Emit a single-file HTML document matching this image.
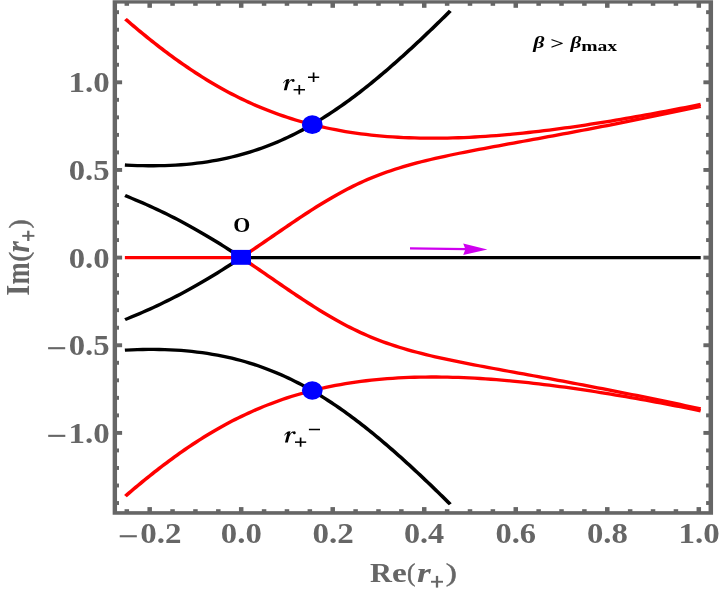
<!DOCTYPE html>
<html><head><meta charset="utf-8"><title>plot</title>
<style>
html,body{margin:0;padding:0;background:#fff;}
svg{display:block;will-change:transform;font-family:"Liberation Serif",serif;}
</style></head>
<body>
<svg width="719" height="589" viewBox="0 0 719 589">
<rect width="719" height="589" fill="#fff"/>
<rect x="112.65" y="0.25" width="600.40" height="514.50" fill="#666"/><rect x="117.05" y="3.6" width="591.50" height="507.55" fill="#fff"/>
<g fill="#666"><rect x="124.55" y="509.2" width="4.5" height="2.95"/><rect x="124.55" y="2.60" width="4.5" height="3.20"/><rect x="147.43" y="507.1" width="4.5" height="5.05"/><rect x="147.43" y="2.60" width="4.5" height="5.20"/><rect x="170.31" y="509.2" width="4.5" height="2.95"/><rect x="170.31" y="2.60" width="4.5" height="3.20"/><rect x="193.19" y="509.2" width="4.5" height="2.95"/><rect x="193.19" y="2.60" width="4.5" height="3.20"/><rect x="216.07" y="509.2" width="4.5" height="2.95"/><rect x="216.07" y="2.60" width="4.5" height="3.20"/><rect x="238.95" y="507.1" width="4.5" height="5.05"/><rect x="238.95" y="2.60" width="4.5" height="5.20"/><rect x="261.83" y="509.2" width="4.5" height="2.95"/><rect x="261.83" y="2.60" width="4.5" height="3.20"/><rect x="284.71" y="509.2" width="4.5" height="2.95"/><rect x="284.71" y="2.60" width="4.5" height="3.20"/><rect x="307.59" y="509.2" width="4.5" height="2.95"/><rect x="307.59" y="2.60" width="4.5" height="3.20"/><rect x="330.47" y="507.1" width="4.5" height="5.05"/><rect x="330.47" y="2.60" width="4.5" height="5.20"/><rect x="353.35" y="509.2" width="4.5" height="2.95"/><rect x="353.35" y="2.60" width="4.5" height="3.20"/><rect x="376.23" y="509.2" width="4.5" height="2.95"/><rect x="376.23" y="2.60" width="4.5" height="3.20"/><rect x="399.11" y="509.2" width="4.5" height="2.95"/><rect x="399.11" y="2.60" width="4.5" height="3.20"/><rect x="421.99" y="507.1" width="4.5" height="5.05"/><rect x="421.99" y="2.60" width="4.5" height="5.20"/><rect x="444.87" y="509.2" width="4.5" height="2.95"/><rect x="444.87" y="2.60" width="4.5" height="3.20"/><rect x="467.75" y="509.2" width="4.5" height="2.95"/><rect x="467.75" y="2.60" width="4.5" height="3.20"/><rect x="490.63" y="509.2" width="4.5" height="2.95"/><rect x="490.63" y="2.60" width="4.5" height="3.20"/><rect x="513.51" y="507.1" width="4.5" height="5.05"/><rect x="513.51" y="2.60" width="4.5" height="5.20"/><rect x="536.39" y="509.2" width="4.5" height="2.95"/><rect x="536.39" y="2.60" width="4.5" height="3.20"/><rect x="559.27" y="509.2" width="4.5" height="2.95"/><rect x="559.27" y="2.60" width="4.5" height="3.20"/><rect x="582.15" y="509.2" width="4.5" height="2.95"/><rect x="582.15" y="2.60" width="4.5" height="3.20"/><rect x="605.03" y="507.1" width="4.5" height="5.05"/><rect x="605.03" y="2.60" width="4.5" height="5.20"/><rect x="627.91" y="509.2" width="4.5" height="2.95"/><rect x="627.91" y="2.60" width="4.5" height="3.20"/><rect x="650.79" y="509.2" width="4.5" height="2.95"/><rect x="650.79" y="2.60" width="4.5" height="3.20"/><rect x="673.67" y="509.2" width="4.5" height="2.95"/><rect x="673.67" y="2.60" width="4.5" height="3.20"/><rect x="696.55" y="507.1" width="4.5" height="5.05"/><rect x="696.55" y="2.60" width="4.5" height="5.20"/><rect x="116.05" y="501.07" width="2.95" height="3.9"/><rect x="706.1" y="501.07" width="3.45" height="3.9"/><rect x="116.05" y="483.54" width="2.95" height="3.9"/><rect x="706.1" y="483.54" width="3.45" height="3.9"/><rect x="116.05" y="466.01" width="2.95" height="3.9"/><rect x="706.1" y="466.01" width="3.45" height="3.9"/><rect x="116.05" y="448.48" width="2.95" height="3.9"/><rect x="706.1" y="448.48" width="3.45" height="3.9"/><rect x="116.05" y="430.95" width="6.05" height="3.9"/><rect x="703.4" y="430.95" width="6.15" height="3.9"/><rect x="116.05" y="413.42" width="2.95" height="3.9"/><rect x="706.1" y="413.42" width="3.45" height="3.9"/><rect x="116.05" y="395.89" width="2.95" height="3.9"/><rect x="706.1" y="395.89" width="3.45" height="3.9"/><rect x="116.05" y="378.36" width="2.95" height="3.9"/><rect x="706.1" y="378.36" width="3.45" height="3.9"/><rect x="116.05" y="360.83" width="2.95" height="3.9"/><rect x="706.1" y="360.83" width="3.45" height="3.9"/><rect x="116.05" y="343.30" width="6.05" height="3.9"/><rect x="703.4" y="343.30" width="6.15" height="3.9"/><rect x="116.05" y="325.77" width="2.95" height="3.9"/><rect x="706.1" y="325.77" width="3.45" height="3.9"/><rect x="116.05" y="308.24" width="2.95" height="3.9"/><rect x="706.1" y="308.24" width="3.45" height="3.9"/><rect x="116.05" y="290.71" width="2.95" height="3.9"/><rect x="706.1" y="290.71" width="3.45" height="3.9"/><rect x="116.05" y="273.18" width="2.95" height="3.9"/><rect x="706.1" y="273.18" width="3.45" height="3.9"/><rect x="116.05" y="255.65" width="6.05" height="3.9"/><rect x="703.4" y="255.65" width="6.15" height="3.9"/><rect x="116.05" y="238.12" width="2.95" height="3.9"/><rect x="706.1" y="238.12" width="3.45" height="3.9"/><rect x="116.05" y="220.59" width="2.95" height="3.9"/><rect x="706.1" y="220.59" width="3.45" height="3.9"/><rect x="116.05" y="203.06" width="2.95" height="3.9"/><rect x="706.1" y="203.06" width="3.45" height="3.9"/><rect x="116.05" y="185.53" width="2.95" height="3.9"/><rect x="706.1" y="185.53" width="3.45" height="3.9"/><rect x="116.05" y="168.00" width="6.05" height="3.9"/><rect x="703.4" y="168.00" width="6.15" height="3.9"/><rect x="116.05" y="150.47" width="2.95" height="3.9"/><rect x="706.1" y="150.47" width="3.45" height="3.9"/><rect x="116.05" y="132.94" width="2.95" height="3.9"/><rect x="706.1" y="132.94" width="3.45" height="3.9"/><rect x="116.05" y="115.41" width="2.95" height="3.9"/><rect x="706.1" y="115.41" width="3.45" height="3.9"/><rect x="116.05" y="97.88" width="2.95" height="3.9"/><rect x="706.1" y="97.88" width="3.45" height="3.9"/><rect x="116.05" y="80.35" width="6.05" height="3.9"/><rect x="703.4" y="80.35" width="6.15" height="3.9"/><rect x="116.05" y="62.82" width="2.95" height="3.9"/><rect x="706.1" y="62.82" width="3.45" height="3.9"/><rect x="116.05" y="45.29" width="2.95" height="3.9"/><rect x="706.1" y="45.29" width="3.45" height="3.9"/><rect x="116.05" y="27.76" width="2.95" height="3.9"/><rect x="706.1" y="27.76" width="3.45" height="3.9"/><rect x="116.05" y="10.23" width="2.95" height="3.9"/><rect x="706.1" y="10.23" width="3.45" height="3.9"/></g>
<g transform="scale(1.17 1)" fill="none" stroke-width="3.3" stroke-linecap="square" stroke-linejoin="round">
<path d="M108.38 165.08L112.69 165.33L117.36 165.53L122.05 165.68L126.74 165.76L131.43 165.77L136.12 165.71L140.80 165.58L145.47 165.37L150.12 165.09L154.75 164.73L159.34 164.29L163.89 163.77L168.39 163.18L172.84 162.51L177.23 161.76L181.55 160.94L185.81 160.06L189.99 159.10L194.09 158.08L198.12 157.00L202.06 155.86L205.92 154.66L209.70 153.42L213.41 152.12L217.03 150.79L220.57 149.40L224.03 147.99L227.42 146.53L230.73 145.04L233.98 143.52L237.15 141.97L240.26 140.40L243.31 138.80L246.29 137.17L249.22 135.53L252.09 133.86L254.91 132.18L257.67 130.48L260.39 128.77L263.06 127.04L265.49 125.43L266.54 124.72L267.02 124.39L268.23 123.57L270.77 121.80L273.28 120.02L275.75 118.23L278.18 116.43L280.58 114.63L282.95 112.81L285.29 110.99L287.60 109.16L289.88 107.32L292.13 105.47L294.36 103.62L296.56 101.76L298.74 99.90L300.90 98.03L303.04 96.16L305.16 94.28L307.25 92.40L309.33 90.51L311.39 88.62L313.44 86.73L315.46 84.83L317.47 82.93L319.47 81.03L321.45 79.12L323.42 77.21L325.37 75.30L327.31 73.38L329.24 71.46L331.15 69.54L333.06 67.62L334.95 65.70L336.83 63.77L338.70 61.84L340.56 59.91L342.42 57.98L344.26 56.04L346.09 54.11L347.92 52.17L349.73 50.23L351.54 48.29L353.34 46.34L355.13 44.40L356.92 42.45L358.70 40.51L360.47 38.56L362.23 36.61L363.99 34.66L365.74 32.71L367.49 30.75L369.23 28.80L370.96 26.85L372.69 24.89L374.41 22.93L376.13 20.98L377.84 19.02L379.55 17.06L381.25 15.10L382.95 13.14L383.77 12.18" stroke="#000"/>
<path d="M108.38 350.12L112.69 349.87L117.36 349.67L122.05 349.52L126.74 349.44L131.43 349.43L136.12 349.49L140.80 349.62L145.47 349.83L150.12 350.11L154.75 350.47L159.34 350.91L163.89 351.43L168.39 352.02L172.84 352.69L177.23 353.44L181.55 354.26L185.81 355.14L189.99 356.10L194.09 357.12L198.12 358.20L202.06 359.34L205.92 360.54L209.70 361.78L213.41 363.08L217.03 364.41L220.57 365.80L224.03 367.21L227.42 368.67L230.73 370.16L233.98 371.68L237.15 373.23L240.26 374.80L243.31 376.40L246.29 378.03L249.22 379.67L252.09 381.34L254.91 383.02L257.67 384.72L260.39 386.43L263.06 388.16L265.49 389.77L266.54 390.48L267.02 390.81L268.23 391.63L270.77 393.40L273.28 395.18L275.75 396.97L278.18 398.77L280.58 400.57L282.95 402.39L285.29 404.21L287.60 406.04L289.88 407.88L292.13 409.73L294.36 411.58L296.56 413.44L298.74 415.30L300.90 417.17L303.04 419.04L305.16 420.92L307.25 422.80L309.33 424.69L311.39 426.58L313.44 428.47L315.46 430.37L317.47 432.27L319.47 434.17L321.45 436.08L323.42 437.99L325.37 439.90L327.31 441.82L329.24 443.74L331.15 445.66L333.06 447.58L334.95 449.50L336.83 451.43L338.70 453.36L340.56 455.29L342.42 457.22L344.26 459.16L346.09 461.09L347.92 463.03L349.73 464.97L351.54 466.91L353.34 468.86L355.13 470.80L356.92 472.75L358.70 474.69L360.47 476.64L362.23 478.59L363.99 480.54L365.74 482.49L367.49 484.45L369.23 486.40L370.96 488.35L372.69 490.31L374.41 492.27L376.13 494.22L377.84 496.18L379.55 498.14L381.25 500.10L382.95 502.06L383.77 503.02" stroke="#000"/>
<path d="M206.15 257.60L206.09 257.55L205.95 257.44L205.66 257.21L205.17 256.84L204.44 256.27L203.39 255.46L201.96 254.36L200.07 252.91L197.73 251.14L195.33 249.33L192.92 247.52L190.49 245.72L188.04 243.93L185.58 242.14L183.09 240.35L180.59 238.57L178.07 236.80L175.53 235.03L172.96 233.27L170.37 231.52L167.76 229.77L165.13 228.03L162.46 226.29L159.78 224.57L157.06 222.85L154.32 221.15L151.55 219.45L148.75 217.76L145.92 216.08L143.06 214.42L140.17 212.76L137.25 211.11L134.29 209.48L131.31 207.85L128.29 206.24L125.25 204.64L122.17 203.05L119.06 201.48L115.91 199.92L112.74 198.37L109.53 196.83L108.38 196.28" stroke="#000"/>
<path d="M206.15 257.60L206.09 257.65L205.95 257.76L205.66 257.99L205.17 258.36L204.44 258.93L203.39 259.74L201.96 260.84L200.07 262.29L197.73 264.06L195.33 265.87L192.92 267.68L190.49 269.48L188.04 271.27L185.58 273.06L183.09 274.85L180.59 276.63L178.07 278.40L175.53 280.17L172.96 281.93L170.37 283.68L167.76 285.43L165.13 287.17L162.46 288.91L159.78 290.63L157.06 292.35L154.32 294.05L151.55 295.75L148.75 297.44L145.92 299.12L143.06 300.78L140.17 302.44L137.25 304.09L134.29 305.72L131.31 307.35L128.29 308.96L125.25 310.56L122.17 312.15L119.06 313.72L115.91 315.28L112.74 316.83L109.53 318.37L108.38 318.92" stroke="#000"/>
<path d="M108.38 20.28L110.27 22.18L112.19 24.09L114.12 26.01L116.07 27.93L118.02 29.84L119.99 31.75L121.97 33.66L123.96 35.56L125.97 37.46L127.99 39.36L130.02 41.26L132.07 43.15L134.13 45.04L136.21 46.92L138.31 48.81L140.42 50.69L142.55 52.56L144.70 54.43L146.86 56.30L149.05 58.16L151.25 60.02L153.48 61.87L155.73 63.71L158.00 65.56L160.29 67.39L162.60 69.22L164.95 71.04L167.31 72.86L169.71 74.67L172.13 76.47L174.58 78.27L177.06 80.05L179.57 81.83L182.12 83.60L184.69 85.35L187.30 87.10L189.95 88.84L192.64 90.56L195.36 92.28L198.12 93.98L200.93 95.66L203.78 97.34L206.67 98.99L209.61 100.63L212.59 102.26L215.62 103.86L218.71 105.45L221.84 107.01L225.03 108.56L228.28 110.08L231.57 111.57L234.93 113.04L238.34 114.49L241.82 115.90L245.35 117.29L248.94 118.64L252.60 119.96L256.31 121.24L260.09 122.49L263.93 123.70L266.21 124.39L266.81 124.57L267.76 124.85L270.41 125.61L274.41 126.71L278.47 127.76L282.59 128.77L286.76 129.73L290.99 130.65L295.27 131.51L299.60 132.32L303.98 133.08L308.40 133.79L312.86 134.45L317.36 135.05L321.89 135.59L326.45 136.09L331.04 136.53L335.65 136.92L340.28 137.25L344.94 137.53L349.60 137.77L354.28 137.95L358.96 138.08L363.65 138.16L368.34 138.20L373.03 138.20L377.73 138.15L382.41 138.05L387.10 137.92L391.78 137.74L396.45 137.53L401.11 137.28L405.76 137.00L410.40 136.68L415.02 136.33L419.64 135.95L424.24 135.54L428.83 135.10L433.41 134.63L437.97 134.14L442.52 133.62L447.05 133.08L451.57 132.51L456.08 131.92L460.57 131.31L465.05 130.68L469.51 130.03L473.96 129.37L478.40 128.68L482.83 127.98L487.24 127.26L491.64 126.53L496.02 125.78L500.40 125.02L504.76 124.24L509.11 123.45L513.45 122.65L517.77 121.84L522.09 121.01L526.40 120.17L530.69 119.32L534.98 118.47L539.25 117.60L543.52 116.72L547.77 115.83L552.02 114.94L556.26 114.03L560.49 113.12L564.71 112.20L568.92 111.27L573.12 110.34L577.32 109.40L581.51 108.45L585.69 107.49L589.86 106.53L594.03 105.56L597.26 104.80" stroke="#f00"/>
<path d="M108.38 494.92L110.27 493.02L112.19 491.11L114.12 489.19L116.07 487.27L118.02 485.36L119.99 483.45L121.97 481.54L123.96 479.64L125.97 477.74L127.99 475.84L130.02 473.94L132.07 472.05L134.13 470.16L136.21 468.28L138.31 466.39L140.42 464.51L142.55 462.64L144.70 460.77L146.86 458.90L149.05 457.04L151.25 455.18L153.48 453.33L155.73 451.49L158.00 449.64L160.29 447.81L162.60 445.98L164.95 444.16L167.31 442.34L169.71 440.53L172.13 438.73L174.58 436.93L177.06 435.15L179.57 433.37L182.12 431.60L184.69 429.85L187.30 428.10L189.95 426.36L192.64 424.64L195.36 422.92L198.12 421.22L200.93 419.54L203.78 417.86L206.67 416.21L209.61 414.57L212.59 412.94L215.62 411.34L218.71 409.75L221.84 408.19L225.03 406.64L228.28 405.12L231.57 403.63L234.93 402.16L238.34 400.71L241.82 399.30L245.35 397.91L248.94 396.56L252.60 395.24L256.31 393.96L260.09 392.71L263.93 391.50L266.21 390.81L266.81 390.63L267.76 390.35L270.41 389.59L274.41 388.49L278.47 387.44L282.59 386.43L286.76 385.47L290.99 384.55L295.27 383.69L299.60 382.88L303.98 382.12L308.40 381.41L312.86 380.75L317.36 380.15L321.89 379.61L326.45 379.11L331.04 378.67L335.65 378.28L340.28 377.95L344.94 377.67L349.60 377.43L354.28 377.25L358.96 377.12L363.65 377.04L368.34 377.00L373.03 377.00L377.73 377.05L382.41 377.15L387.10 377.28L391.78 377.46L396.45 377.67L401.11 377.92L405.76 378.20L410.40 378.52L415.02 378.87L419.64 379.25L424.24 379.66L428.83 380.10L433.41 380.57L437.97 381.06L442.52 381.58L447.05 382.12L451.57 382.69L456.08 383.28L460.57 383.89L465.05 384.52L469.51 385.17L473.96 385.83L478.40 386.52L482.83 387.22L487.24 387.94L491.64 388.67L496.02 389.42L500.40 390.18L504.76 390.96L509.11 391.75L513.45 392.55L517.77 393.36L522.09 394.19L526.40 395.03L530.69 395.88L534.98 396.73L539.25 397.60L543.52 398.48L547.77 399.37L552.02 400.26L556.26 401.17L560.49 402.08L564.71 403.00L568.92 403.93L573.12 404.86L577.32 405.80L581.51 406.75L585.69 407.71L589.86 408.67L594.03 409.64L597.26 410.40" stroke="#f00"/>
<path d="M206.15 257.60L206.21 257.55L206.36 257.44L206.65 257.21L207.14 256.83L207.89 256.25L208.97 255.41L210.47 254.23L212.51 252.63L214.82 250.80L217.13 248.97L219.43 247.14L221.73 245.30L224.02 243.46L226.31 241.63L228.59 239.79L230.88 237.95L233.16 236.11L235.44 234.28L237.72 232.44L240.01 230.60L242.30 228.76L244.59 226.93L246.89 225.09L249.19 223.26L251.51 221.43L253.83 219.60L256.16 217.78L258.51 215.96L260.87 214.14L263.25 212.33L265.64 210.52L268.05 208.71L270.48 206.91L272.94 205.12L275.42 203.33L277.93 201.55L280.46 199.78L283.03 198.02L285.63 196.27L288.27 194.53L290.95 192.81L293.67 191.09L296.43 189.39L299.25 187.71L302.11 186.04L305.03 184.39L308.00 182.77L311.03 181.16L314.12 179.58L317.28 178.02L320.50 176.49L323.79 174.99L327.14 173.52L330.56 172.08L334.05 170.67L337.60 169.29L341.21 167.95L344.89 166.64L348.63 165.37L352.42 164.13L356.26 162.92L360.15 161.75L364.08 160.60L368.06 159.48L372.07 158.39L376.12 157.33L380.20 156.28L384.30 155.26L388.42 154.26L392.57 153.27L396.73 152.30L400.91 151.34L405.10 150.39L409.30 149.46L413.51 148.53L417.73 147.61L421.96 146.69L426.19 145.78L430.42 144.87L434.65 143.96L438.89 143.06L443.13 142.16L447.37 141.25L451.61 140.35L455.84 139.44L460.08 138.54L464.31 137.63L468.54 136.72L472.77 135.81L477.00 134.89L481.22 133.97L485.44 133.05L489.65 132.12L493.86 131.19L498.07 130.26L502.27 129.32L506.46 128.38L510.66 127.43L514.84 126.48L519.03 125.53L523.21 124.57L527.38 123.61L531.55 122.64L535.71 121.67L539.87 120.70L544.03 119.72L548.18 118.74L552.32 117.75L556.46 116.76L560.60 115.77L564.73 114.77L568.86 113.77L572.98 112.76L577.10 111.75L581.21 110.74L585.32 109.72L589.43 108.70L593.53 107.68L597.26 106.74" stroke="#f00"/>
<path d="M206.15 257.60L206.21 257.65L206.36 257.76L206.65 257.99L207.14 258.37L207.89 258.95L208.97 259.79L210.47 260.97L212.51 262.57L214.82 264.40L217.13 266.23L219.43 268.06L221.73 269.90L224.02 271.74L226.31 273.57L228.59 275.41L230.88 277.25L233.16 279.09L235.44 280.92L237.72 282.76L240.01 284.60L242.30 286.44L244.59 288.27L246.89 290.11L249.19 291.94L251.51 293.77L253.83 295.60L256.16 297.42L258.51 299.24L260.87 301.06L263.25 302.87L265.64 304.68L268.05 306.49L270.48 308.29L272.94 310.08L275.42 311.87L277.93 313.65L280.46 315.42L283.03 317.18L285.63 318.93L288.27 320.67L290.95 322.39L293.67 324.11L296.43 325.81L299.25 327.49L302.11 329.16L305.03 330.81L308.00 332.43L311.03 334.04L314.12 335.62L317.28 337.18L320.50 338.71L323.79 340.21L327.14 341.68L330.56 343.12L334.05 344.53L337.60 345.91L341.21 347.25L344.89 348.56L348.63 349.83L352.42 351.07L356.26 352.28L360.15 353.45L364.08 354.60L368.06 355.72L372.07 356.81L376.12 357.87L380.20 358.92L384.30 359.94L388.42 360.94L392.57 361.93L396.73 362.90L400.91 363.86L405.10 364.81L409.30 365.74L413.51 366.67L417.73 367.59L421.96 368.51L426.19 369.42L430.42 370.33L434.65 371.24L438.89 372.14L443.13 373.04L447.37 373.95L451.61 374.85L455.84 375.76L460.08 376.66L464.31 377.57L468.54 378.48L472.77 379.39L477.00 380.31L481.22 381.23L485.44 382.15L489.65 383.08L493.86 384.01L498.07 384.94L502.27 385.88L506.46 386.82L510.66 387.77L514.84 388.72L519.03 389.67L523.21 390.63L527.38 391.59L531.55 392.56L535.71 393.53L539.87 394.50L544.03 395.48L548.18 396.46L552.32 397.45L556.46 398.44L560.60 399.43L564.73 400.43L568.86 401.43L572.98 402.44L577.10 403.45L581.21 404.46L585.32 405.48L589.43 406.50L593.53 407.52L597.26 408.46" stroke="#f00"/>
<path d="M206.15 257.60L597.26 257.60" stroke="#000"/>
<path d="M108.38 257.60L206.15 257.60" stroke="#f00"/>
</g>
<ellipse cx="312.28" cy="124.66" rx="10.35" ry="9.3" fill="#00f"/><ellipse cx="312.28" cy="390.54" rx="10.35" ry="9.3" fill="#00f"/><rect x="231.1" y="249.9" width="19.9" height="14.9" fill="#00f"/><path d="M410 248.45L466 249.15" stroke="#cf00ef" stroke-width="2.3" fill="none"/><path d="M487.4 249.4L463.2 243.6L465.4 249.15L463.2 254.9Z" fill="#cf00ef"/>
<rect x="48.10" y="347.15" width="17.1" height="2.1" fill="#666"/>
<rect x="48.20" y="434.80" width="17.1" height="2.1" fill="#666"/>
<rect x="119.73" y="535.20" width="17.1" height="2.1" fill="#666"/>
<rect x="431.00" y="580.80" width="12.0" height="1.9" fill="#666"/><rect x="435.85" y="575.90" width="2.3" height="11.7" fill="#666"/>
<rect x="22.20" y="234.90" width="12.2" height="1.9" fill="#666"/><rect x="27.15" y="230.70" width="2.3" height="10.3" fill="#666"/>
<path transform="translate(0 0)" fill="#000" d="M283.0 82.9 Q284.6 80.2 286.9 79.25 L289.3 78.9 L288.5 82.2 Q289.9 79.9 291.4 79.3 L292.55 79.29 A1.4 1.4 0 1 1 291.87 80.74 Q291.3 80.2 290.8 80.5 Q289.5 81.6 288.2 84.4 L286.7 90.25 L283.85 90.25 L286.15 81.1 Q284.9 81.2 283.6 83.3 Z"/>
<rect x="293.60" y="89.00" width="11.4" height="1.5" fill="#000"/><rect x="298.45" y="85.00" width="1.7" height="9.5" fill="#000"/>
<rect x="308.00" y="76.50" width="11.2" height="1.5" fill="#000"/><rect x="312.75" y="72.50" width="1.7" height="9.5" fill="#000"/>
<path transform="translate(1.1 352.3)" fill="#000" d="M283.0 82.9 Q284.6 80.2 286.9 79.25 L289.3 78.9 L288.5 82.2 Q289.9 79.9 291.4 79.3 L292.55 79.29 A1.4 1.4 0 1 1 291.87 80.74 Q291.3 80.2 290.8 80.5 Q289.5 81.6 288.2 84.4 L286.7 90.25 L283.85 90.25 L286.15 81.1 Q284.9 81.2 283.6 83.3 Z"/>
<rect x="295.00" y="441.40" width="11.2" height="1.5" fill="#000"/><rect x="299.75" y="437.55" width="1.7" height="9.2" fill="#000"/>
<rect x="308.90" y="428.75" width="11.1" height="1.5" fill="#000"/>
<text transform="translate(68.46 92.30) scale(1.130 1.0)" font-size="29.2" font-weight="bold" font-style="normal" fill="#666">1.0</text>
<text transform="translate(68.72 179.95) scale(1.122 1.0)" font-size="29.2" font-weight="bold" font-style="normal" fill="#666">0.5</text>
<text transform="translate(68.72 267.60) scale(1.122 1.0)" font-size="29.2" font-weight="bold" font-style="normal" fill="#666">0.0</text>
<text transform="translate(68.72 355.25) scale(1.122 1.0)" font-size="29.2" font-weight="bold" font-style="normal" fill="#666">0.5</text>
<text transform="translate(68.46 442.90) scale(1.130 1.0)" font-size="29.2" font-weight="bold" font-style="normal" fill="#666">1.0</text>
<text transform="translate(140.34 543.30) scale(1.132 1.0)" font-size="29.2" font-weight="bold" font-style="normal" fill="#666">0.2</text>
<text transform="translate(220.87 543.30) scale(1.122 1.0)" font-size="29.2" font-weight="bold" font-style="normal" fill="#666">0.0</text>
<text transform="translate(312.38 543.30) scale(1.132 1.0)" font-size="29.2" font-weight="bold" font-style="normal" fill="#666">0.2</text>
<text transform="translate(403.92 543.30) scale(1.104 1.0)" font-size="29.2" font-weight="bold" font-style="normal" fill="#666">0.4</text>
<text transform="translate(495.43 543.30) scale(1.113 1.0)" font-size="29.2" font-weight="bold" font-style="normal" fill="#666">0.6</text>
<text transform="translate(586.95 543.30) scale(1.122 1.0)" font-size="29.2" font-weight="bold" font-style="normal" fill="#666">0.8</text>
<text transform="translate(678.41 543.30) scale(1.130 1.0)" font-size="29.2" font-weight="bold" font-style="normal" fill="#666">1.0</text>
<text transform="translate(370.00 582.00) scale(1.126 1.0)" font-size="27" font-weight="bold" font-style="normal" fill="#666">R</text>
<text transform="translate(391.90 582.00) scale(1.235 1.0)" font-size="27" font-weight="bold" font-style="normal" fill="#666">e</text>
<text transform="translate(406.99 580.80) scale(0.988 1.0)" font-size="25.5" font-weight="normal" font-style="normal" fill="#666" stroke="#666" stroke-width="0.45" stroke-linejoin="round">(</text>
<text transform="translate(416.89 582.00) scale(1.306 1.0)" font-size="27" font-weight="bold" font-style="italic" fill="#666">r</text>
<text transform="translate(445.80 580.80) scale(1.312 1.0)" font-size="25.5" font-weight="normal" font-style="normal" fill="#666" stroke="#666" stroke-width="0.45" stroke-linejoin="round">)</text>
<text transform="translate(28.90 295.65) rotate(-90) scale(1.044 1.22)" font-size="27" font-weight="bold" font-style="normal" fill="#666">I</text>
<text transform="translate(28.90 284.53) rotate(-90) scale(0.986 1.22)" font-size="27" font-weight="bold" font-style="normal" fill="#666">m</text>
<text transform="translate(27.50 261.80) rotate(-90) scale(1.176 1.09)" font-size="25.5" font-weight="normal" font-style="normal" fill="#666" stroke="#666" stroke-width="0.45" stroke-linejoin="round">(</text>
<text transform="translate(28.90 252.58) rotate(-90) scale(1.072 1.22)" font-size="27" font-weight="bold" font-style="italic" fill="#666">r</text>
<text transform="translate(27.50 228.42) rotate(-90) scale(1.071 1.09)" font-size="25.5" font-weight="normal" font-style="normal" fill="#666" stroke="#666" stroke-width="0.45" stroke-linejoin="round">)</text>
<text transform="translate(233.32 232.00) scale(1.032 1.0)" font-size="21.2" font-weight="bold" font-style="normal" fill="#000">O</text>
<text transform="translate(533.37 47.50) scale(1.364 1.0)" font-size="16.0" font-weight="bold" font-style="italic" fill="#000">β</text>
<text transform="translate(550.19 48.60) scale(1.497 1.0)" font-size="16.2" font-weight="bold" font-style="normal" fill="#000">&gt;</text>
<text transform="translate(570.54 47.50) scale(1.307 1.0)" font-size="16.0" font-weight="bold" font-style="italic" fill="#000">β</text>
<text transform="translate(581.21 50.60) scale(1.292 1.0)" font-size="15.2" font-weight="bold" font-style="normal" fill="#000">max</text>
</svg>
</body></html>
